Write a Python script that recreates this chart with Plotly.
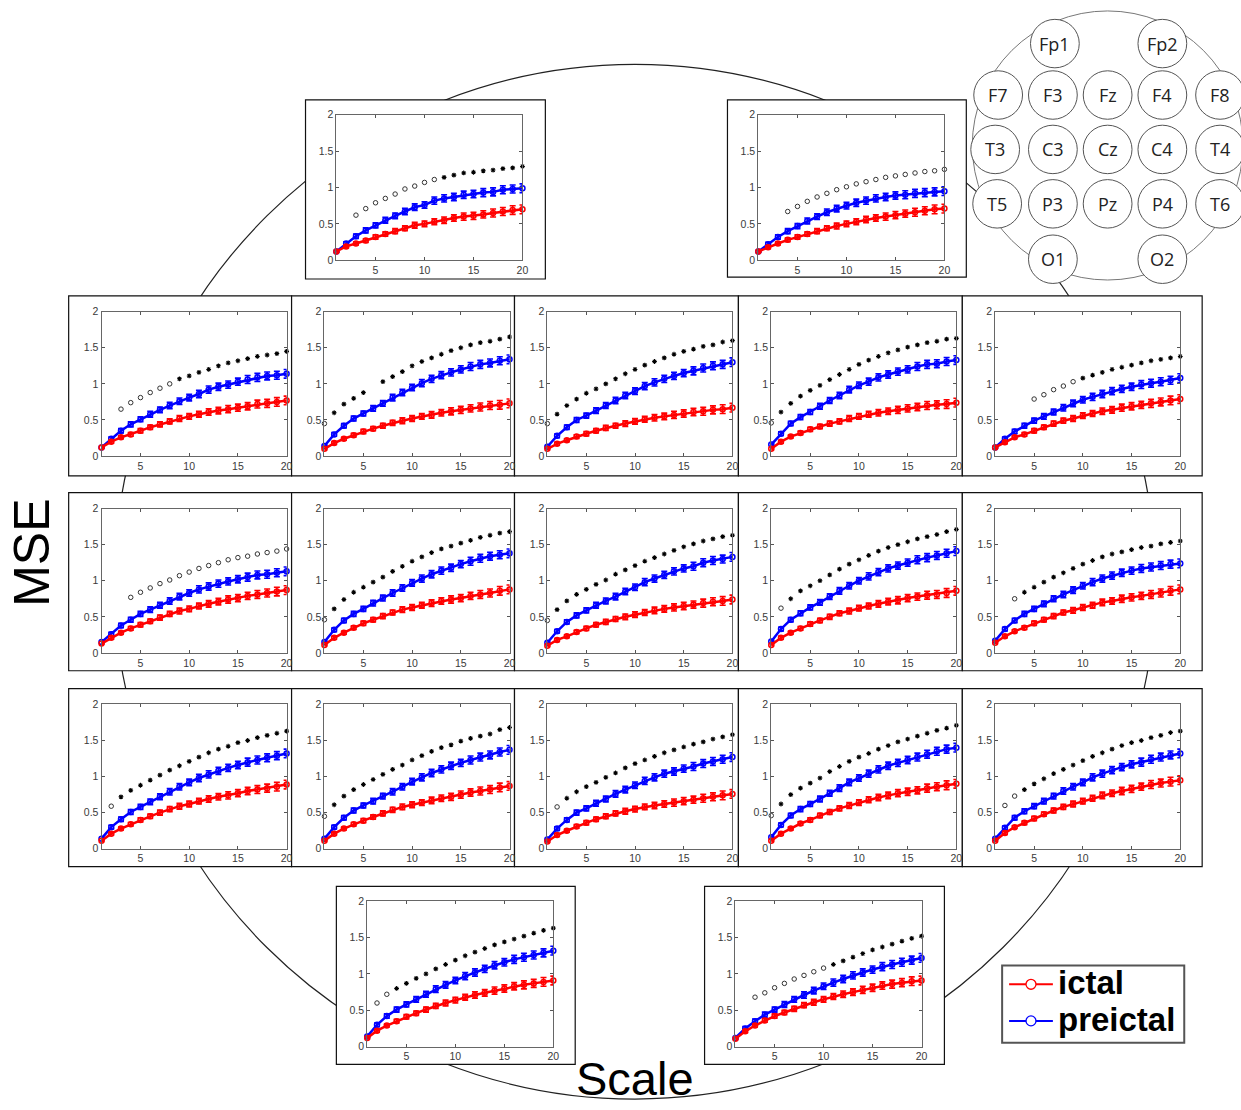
import plotly.graph_objects as go

W, H = 1241, 1110

scales = list(range(1, 21))
x_ticks = [5, 10, 15, 20]
y_ticks = [0, 0.5, 1, 1.5, 2]
y_ticktext = ["0", "0.5", "1", "1.5", "2"]

electrodes = ["Fp1", "Fp2", "F7", "F3", "Fz", "F4", "F8",
              "T3", "C3", "Cz", "C4", "T4",
              "T5", "P3", "Pz", "P4", "T6", "O1", "O2"]

# ---- per-electrode MSE curves ----
fp1_ictal = [0.12,0.19,0.23,0.27,0.32,0.36,0.40,0.44,0.48,0.50,0.53,0.55,0.58,0.60,0.61,0.63,0.65,0.67,0.69,0.70]
fp1_pre   = [0.12,0.23,0.33,0.41,0.48,0.55,0.61,0.67,0.73,0.76,0.82,0.85,0.87,0.90,0.91,0.93,0.94,0.97,0.98,0.99]
fp1_marks = [None,None,0.62,0.71,0.79,0.85,0.91,0.98,1.02,1.07,1.11,1.14,1.17,1.20,1.21,1.23,1.24,1.26,1.27,1.29]
fp1_kind  = "--ooooooooo*********"

fp2_ictal = [0.12,0.18,0.23,0.28,0.32,0.36,0.40,0.44,0.47,0.50,0.53,0.56,0.58,0.60,0.62,0.64,0.66,0.68,0.70,0.71]
fp2_pre   = [0.12,0.22,0.32,0.40,0.47,0.54,0.60,0.66,0.71,0.75,0.79,0.82,0.85,0.87,0.89,0.90,0.92,0.93,0.94,0.95]
fp2_marks = [None,None,None,0.67,0.74,0.81,0.87,0.92,0.97,1.01,1.05,1.08,1.11,1.14,1.16,1.18,1.20,1.22,1.23,1.25]
fp2_kind  = "---ooooooooooooooooo"

f7_ictal = [0.12,0.20,0.26,0.30,0.35,0.40,0.44,0.48,0.52,0.55,0.58,0.61,0.63,0.65,0.67,0.69,0.72,0.73,0.75,0.77]
f7_pre   = [0.12,0.24,0.35,0.44,0.51,0.58,0.64,0.70,0.76,0.81,0.86,0.92,0.96,0.99,1.03,1.06,1.09,1.11,1.12,1.14]
f7_marks = [None,None,0.65,0.74,0.81,0.88,0.94,1.00,1.07,1.11,1.16,1.20,1.25,1.29,1.32,1.35,1.38,1.40,1.42,1.45]
f7_kind  = "--oooooo************"

f3_ictal = [0.10,0.18,0.24,0.29,0.34,0.38,0.42,0.46,0.49,0.52,0.55,0.57,0.60,0.62,0.64,0.66,0.68,0.70,0.71,0.73]
f3_pre   = [0.14,0.30,0.42,0.52,0.59,0.66,0.73,0.81,0.88,0.95,1.01,1.07,1.12,1.16,1.20,1.24,1.27,1.29,1.32,1.34]
f3_marks = [0.45,0.60,0.72,0.80,0.88,None,1.03,1.10,1.17,1.25,1.31,1.36,1.41,1.46,1.50,1.54,1.57,1.59,1.62,1.65]
f3_kind  = "o****-**************"

fz_ictal = [0.10,0.17,0.22,0.27,0.31,0.35,0.39,0.42,0.45,0.48,0.51,0.53,0.55,0.57,0.59,0.61,0.62,0.64,0.65,0.67]
fz_pre   = [0.13,0.28,0.40,0.50,0.56,0.63,0.70,0.77,0.84,0.90,0.97,1.02,1.07,1.11,1.15,1.18,1.22,1.25,1.27,1.30]
fz_marks = [0.45,0.58,0.70,0.79,0.87,0.93,1.00,1.07,1.14,1.20,1.26,1.31,1.36,1.41,1.45,1.48,1.52,1.54,1.58,1.60]
fz_kind  = "o*******************"

f4_ictal = [0.10,0.20,0.27,0.32,0.37,0.41,0.45,0.48,0.52,0.55,0.58,0.60,0.62,0.64,0.66,0.68,0.70,0.71,0.72,0.74]
f4_pre   = [0.16,0.31,0.45,0.54,0.61,0.69,0.77,0.84,0.92,0.98,1.03,1.09,1.13,1.17,1.20,1.24,1.27,1.28,1.31,1.33]
f4_marks = [0.46,0.61,0.73,0.83,0.91,0.98,1.06,1.13,1.20,1.27,1.33,1.38,1.43,1.47,1.51,1.54,1.57,1.59,1.62,1.63]
f4_kind  = "o*******************"

f8_ictal = [0.12,0.19,0.26,0.30,0.35,0.40,0.45,0.49,0.52,0.56,0.59,0.62,0.64,0.67,0.69,0.71,0.73,0.75,0.77,0.79]
f8_pre   = [0.12,0.24,0.34,0.42,0.49,0.55,0.61,0.67,0.73,0.78,0.82,0.86,0.90,0.93,0.96,0.99,1.01,1.03,1.05,1.08]
f8_marks = [None,None,None,None,0.79,0.85,0.92,0.97,1.03,1.08,1.12,1.16,1.20,1.23,1.26,1.29,1.32,1.34,1.36,1.38]
f8_kind  = "----ooooo***********"

t3_ictal = [0.13,0.21,0.28,0.34,0.39,0.44,0.49,0.54,0.58,0.61,0.65,0.68,0.71,0.74,0.76,0.79,0.81,0.83,0.85,0.87]
t3_pre   = [0.15,0.26,0.38,0.46,0.54,0.60,0.66,0.72,0.78,0.83,0.88,0.92,0.96,0.99,1.02,1.05,1.08,1.09,1.11,1.13]
t3_marks = [None,None,None,0.77,0.84,0.90,0.96,1.01,1.07,1.12,1.17,1.21,1.25,1.29,1.32,1.34,1.37,1.39,1.41,1.44]
t3_kind  = "---ooooooooooooooooo"

c3_ictal = [0.11,0.21,0.28,0.35,0.41,0.46,0.51,0.56,0.60,0.63,0.66,0.69,0.72,0.74,0.76,0.79,0.81,0.83,0.86,0.88]
c3_pre   = [0.15,0.32,0.45,0.54,0.61,0.69,0.76,0.83,0.90,0.97,1.03,1.09,1.14,1.18,1.23,1.27,1.31,1.34,1.36,1.38]
c3_marks = [0.46,0.61,0.74,0.84,0.91,0.98,1.05,1.13,1.20,1.27,1.33,1.39,1.44,1.48,1.52,1.56,1.60,1.63,1.66,1.68]
c3_kind  = "o*******************"

cz_ictal = [0.10,0.18,0.23,0.29,0.34,0.39,0.43,0.47,0.50,0.53,0.56,0.59,0.61,0.63,0.65,0.67,0.69,0.71,0.72,0.74]
cz_pre   = [0.14,0.30,0.43,0.52,0.59,0.66,0.72,0.78,0.85,0.91,0.98,1.03,1.08,1.13,1.17,1.20,1.25,1.28,1.30,1.33]
cz_marks = [0.45,0.60,0.72,0.81,0.88,0.95,1.01,1.09,1.15,1.21,1.27,1.32,1.37,1.42,1.47,1.51,1.55,1.58,1.61,1.63]
cz_kind  = "o*******************"

c4_ictal = [0.11,0.21,0.28,0.34,0.40,0.45,0.50,0.55,0.58,0.62,0.65,0.68,0.71,0.73,0.76,0.78,0.80,0.81,0.83,0.86]
c4_pre   = [0.16,0.33,0.46,0.55,0.63,0.70,0.78,0.86,0.93,1.00,1.06,1.12,1.17,1.21,1.25,1.29,1.32,1.35,1.38,1.41]
c4_marks = [None,0.62,0.75,0.86,0.93,1.00,1.08,1.16,1.23,1.29,1.35,1.41,1.46,1.50,1.54,1.58,1.61,1.64,1.68,1.71]
c4_kind  = "-o******************"

t4_ictal = [0.14,0.23,0.30,0.35,0.41,0.46,0.51,0.56,0.59,0.63,0.66,0.70,0.72,0.75,0.77,0.79,0.81,0.83,0.86,0.88]
t4_pre   = [0.17,0.33,0.45,0.54,0.61,0.68,0.75,0.81,0.87,0.93,0.98,1.03,1.07,1.11,1.14,1.17,1.19,1.21,1.23,1.24]
t4_marks = [None,None,0.75,0.84,0.91,0.98,1.05,1.11,1.17,1.23,1.28,1.33,1.37,1.40,1.43,1.46,1.48,1.51,1.53,1.55]
t4_kind  = "--o*****************"

t5_ictal = [0.11,0.21,0.28,0.34,0.40,0.45,0.50,0.55,0.59,0.62,0.66,0.69,0.72,0.74,0.77,0.80,0.82,0.84,0.86,0.89]
t5_pre   = [0.14,0.30,0.41,0.51,0.58,0.65,0.72,0.79,0.86,0.92,0.98,1.03,1.08,1.12,1.16,1.20,1.23,1.26,1.29,1.32]
t5_marks = [None,0.59,0.72,0.81,0.88,0.95,1.02,1.09,1.15,1.21,1.27,1.33,1.38,1.42,1.47,1.50,1.54,1.57,1.60,1.63]
t5_kind  = "-o******************"

p3_ictal = [0.11,0.21,0.28,0.34,0.39,0.44,0.49,0.54,0.58,0.61,0.64,0.67,0.70,0.72,0.75,0.78,0.80,0.82,0.85,0.87]
p3_pre   = [0.14,0.30,0.43,0.53,0.60,0.66,0.73,0.79,0.86,0.93,0.99,1.05,1.10,1.15,1.19,1.23,1.27,1.30,1.34,1.37]
p3_marks = [0.45,0.61,0.73,0.82,0.89,0.96,1.03,1.10,1.16,1.23,1.29,1.35,1.40,1.44,1.49,1.53,1.56,1.59,1.65,1.68]
p3_kind  = "o*******************"

pz_ictal = [0.10,0.19,0.25,0.31,0.36,0.41,0.45,0.49,0.52,0.55,0.58,0.60,0.62,0.64,0.66,0.68,0.70,0.72,0.74,0.76]
pz_pre   = [0.13,0.28,0.40,0.50,0.56,0.63,0.69,0.76,0.82,0.88,0.94,0.99,1.04,1.07,1.11,1.14,1.18,1.21,1.24,1.27]
pz_marks = [None,0.58,0.70,0.79,0.86,0.92,0.99,1.05,1.12,1.18,1.23,1.28,1.33,1.37,1.41,1.45,1.48,1.52,1.55,1.58]
pz_kind  = "-o******************"

p4_ictal = [0.11,0.21,0.28,0.35,0.40,0.46,0.51,0.56,0.60,0.64,0.68,0.71,0.74,0.77,0.79,0.81,0.84,0.86,0.88,0.90]
p4_pre   = [0.16,0.33,0.46,0.55,0.62,0.69,0.77,0.84,0.92,0.98,1.04,1.10,1.15,1.19,1.23,1.27,1.31,1.35,1.38,1.40]
p4_marks = [0.46,0.62,0.75,0.84,0.91,0.98,1.07,1.14,1.21,1.27,1.32,1.38,1.43,1.48,1.52,1.56,1.60,1.64,1.67,1.71]
p4_kind  = "o*******************"

t6_ictal = [0.11,0.22,0.30,0.36,0.42,0.48,0.53,0.58,0.62,0.66,0.70,0.74,0.77,0.80,0.83,0.86,0.89,0.91,0.93,0.95]
t6_pre   = [0.14,0.29,0.43,0.52,0.59,0.66,0.73,0.80,0.86,0.92,0.99,1.04,1.09,1.13,1.17,1.20,1.24,1.27,1.30,1.32]
t6_marks = [None,0.60,0.73,0.82,0.90,0.97,1.04,1.10,1.16,1.22,1.28,1.33,1.38,1.43,1.47,1.50,1.54,1.57,1.61,1.63]
t6_kind  = "-oo*****************"

o1_ictal = [0.12,0.22,0.29,0.35,0.41,0.46,0.51,0.56,0.60,0.64,0.68,0.71,0.74,0.77,0.80,0.83,0.85,0.87,0.89,0.91]
o1_pre   = [0.14,0.30,0.42,0.51,0.58,0.65,0.72,0.79,0.85,0.91,0.97,1.02,1.07,1.12,1.16,1.20,1.23,1.26,1.29,1.32]
o1_marks = [None,0.60,0.72,0.80,0.87,0.94,1.00,1.07,1.13,1.19,1.25,1.30,1.35,1.40,1.44,1.48,1.52,1.56,1.60,1.63]
o1_kind  = "-oo*****************"

o2_ictal = [0.11,0.21,0.29,0.36,0.42,0.47,0.52,0.57,0.61,0.65,0.69,0.72,0.75,0.78,0.81,0.84,0.86,0.88,0.90,0.91]
o2_pre   = [0.12,0.25,0.35,0.44,0.51,0.58,0.65,0.71,0.77,0.83,0.88,0.93,0.98,1.02,1.06,1.10,1.13,1.16,1.19,1.22]
o2_marks = [None,None,0.68,0.74,0.81,0.87,0.93,0.98,1.03,1.08,1.13,1.18,1.23,1.28,1.33,1.37,1.41,1.45,1.49,1.52]
o2_kind  = "--oooooooo**********"

# shared error bar half-widths (read approx.)
err_ictal = [0.01,0.02,0.02,0.025,0.03,0.03,0.035,0.035,0.04,0.04,0.04,0.045,0.045,0.05,0.05,0.05,0.055,0.055,0.06,0.06]
err_pre   = [0.01,0.025,0.03,0.035,0.035,0.04,0.04,0.045,0.045,0.045,0.05,0.05,0.05,0.05,0.05,0.055,0.055,0.055,0.055,0.06]

panel_data = {
    "Fp1": (fp1_ictal, fp1_pre, fp1_marks, fp1_kind),
    "Fp2": (fp2_ictal, fp2_pre, fp2_marks, fp2_kind),
    "F7": (f7_ictal, f7_pre, f7_marks, f7_kind),
    "F3": (f3_ictal, f3_pre, f3_marks, f3_kind),
    "Fz": (fz_ictal, fz_pre, fz_marks, fz_kind),
    "F4": (f4_ictal, f4_pre, f4_marks, f4_kind),
    "F8": (f8_ictal, f8_pre, f8_marks, f8_kind),
    "T3": (t3_ictal, t3_pre, t3_marks, t3_kind),
    "C3": (c3_ictal, c3_pre, c3_marks, c3_kind),
    "Cz": (cz_ictal, cz_pre, cz_marks, cz_kind),
    "C4": (c4_ictal, c4_pre, c4_marks, c4_kind),
    "T4": (t4_ictal, t4_pre, t4_marks, t4_kind),
    "T5": (t5_ictal, t5_pre, t5_marks, t5_kind),
    "P3": (p3_ictal, p3_pre, p3_marks, p3_kind),
    "Pz": (pz_ictal, pz_pre, pz_marks, pz_kind),
    "P4": (p4_ictal, p4_pre, p4_marks, p4_kind),
    "T6": (t6_ictal, t6_pre, t6_marks, t6_kind),
    "O1": (o1_ictal, o1_pre, o1_marks, o1_kind),
    "O2": (o2_ictal, o2_pre, o2_marks, o2_kind),
}

# ---- layout geometry (pixels) ----
row_lefts = [69, 293, 517, 742, 967]
row_rights = [293, 517, 742, 967, 1208]
row_tops = [293, 492, 690]
row_bottoms = [475, 672, 870]
boxes = {
    "Fp1": (307, 95, 548, 276),
    "Fp2": (731, 95, 971, 274),
    "O1": (338, 890, 578, 1070),
    "O2": (708, 890, 949, 1070),
}
grid_names = [["F7", "F3", "Fz", "F4", "F8"],
              ["T3", "C3", "Cz", "C4", "T4"],
              ["T5", "P3", "Pz", "P4", "T6"]]
for r, names in enumerate(grid_names):
    for c, nm in enumerate(names):
        boxes[nm] = (row_lefts[c], row_tops[r], row_rights[c], row_bottoms[r])


def px(x):
    return x / W


def py(y):
    return 1 - y / H


def axes_rect(nm):
    l, t, r, b = boxes[nm]
    if nm in ("Fp1", "Fp2", "O1", "O2"):
        return (l + 31, t + 15, l + 218, t + 162)
    return (l + 33, t + 16, l + 219, t + 162)


fig = go.Figure()
layout = dict(
    width=W, height=H, margin=dict(l=0, r=0, t=0, b=0),
    paper_bgcolor="white", plot_bgcolor="rgba(0,0,0,0)",
    showlegend=False,
)

RED = "#ff0000"
BLUE = "#0000ff"
axis_font = dict(family="Liberation Sans, Arial, sans-serif", size=10.5, color="#3a3a3a")

for i, nm in enumerate(electrodes):
    n = "" if i == 0 else str(i + 1)
    xa, ya = "x" + n, "y" + n
    ictal, pre, marks, kind = panel_data[nm]
    assert len(kind) == 20, nm
    al, at, ar, ab = axes_rect(nm)
    layout["xaxis" + n] = dict(
        domain=[px(al), px(ar)], anchor=ya, range=[1, 20],
        tickvals=x_ticks, ticks="inside", ticklen=3, tickcolor="#555",
        showline=True, mirror="ticks", linecolor="#666", linewidth=1,
        showgrid=False, zeroline=False, tickfont=axis_font, fixedrange=True,
    )
    layout["yaxis" + n] = dict(
        domain=[py(ab), py(at)], anchor=xa, range=[0, 2],
        tickvals=y_ticks, ticktext=y_ticktext, ticks="inside", ticklen=3,
        tickcolor="#555", showline=True, mirror="ticks", linecolor="#666",
        linewidth=1, showgrid=False, zeroline=False, tickfont=axis_font,
        fixedrange=True,
    )
    for vals, err, col in ((pre, err_pre, BLUE), (ictal, err_ictal, RED)):
        fig.add_trace(go.Scatter(
            x=scales, y=vals, xaxis=xa, yaxis=ya, mode="lines+markers",
            line=dict(color=col, width=2.5),
            marker=dict(symbol="circle-open", size=5, color=col, line=dict(width=1.5)),
            error_y=dict(type="data", array=err, visible=True, color=col,
                         thickness=1.6, width=3),
            cliponaxis=False, hoverinfo="skip",
        ))
    ox = [s for s, k in zip(scales, kind) if k == "o"]
    oy = [m for m, k in zip(marks, kind) if k == "o"]
    sx = [s for s, k in zip(scales, kind) if k == "*"]
    sy = [m for m, k in zip(marks, kind) if k == "*"]
    fig.add_trace(go.Scatter(
        x=ox, y=oy, xaxis=xa, yaxis=ya, mode="markers",
        marker=dict(symbol="circle-open", size=4.5, color="#333", line=dict(width=1)),
        cliponaxis=False, hoverinfo="skip",
    ))
    fig.add_trace(go.Scatter(
        x=sx, y=sy, xaxis=xa, yaxis=ya, mode="markers",
        marker=dict(symbol="asterisk-open", size=4, color="#000", line=dict(width=1.1, color="#000")),
        cliponaxis=False, hoverinfo="skip",
    ))

shapes = []
# big surrounding circle
shapes.append(dict(type="circle", xref="paper", yref="paper",
                   x0=px(115), x1=px(1161), y0=py(1105), y1=py(59),
                   line=dict(color="#222", width=1.2), layer="below"))
# panel boxes
for nm in electrodes:
    l, t, r, b = boxes[nm]
    shapes.append(dict(type="rect", xref="paper", yref="paper",
                       x0=px(l), x1=px(r), y0=py(b), y1=py(t),
                       line=dict(color="#111", width=1.2), fillcolor="white",
                       layer="below"))
# head map
shapes.append(dict(type="circle", xref="paper", yref="paper",
                   x0=px(977), x1=px(1249), y0=py(277), y1=py(5),
                   line=dict(color="#777", width=1), fillcolor="white", layer="below"))
head_pos = {
    "Fp1": (1060, 38), "Fp2": (1168, 38),
    "F7": (1003, 90), "F3": (1058, 90), "Fz": (1113, 90), "F4": (1168, 90), "F8": (1226, 90),
    "T3": (1000, 145), "C3": (1058, 145), "Cz": (1113, 145), "C4": (1168, 145), "T4": (1226, 145),
    "T5": (1002, 200), "P3": (1058, 200), "Pz": (1113, 200), "P4": (1168, 200), "T6": (1226, 200),
    "O1": (1058, 256), "O2": (1168, 256),
}
annotations = []
er = 24.5
for nm, (cx, cy) in head_pos.items():
    shapes.append(dict(type="circle", xref="paper", yref="paper",
                       x0=px(cx - er), x1=px(cx + er), y0=py(cy + er), y1=py(cy - er),
                       line=dict(color="#555", width=1), fillcolor="white", layer="below"))
    annotations.append(dict(x=px(cx), y=py(cy), xref="paper", yref="paper",
                            text=nm, showarrow=False, xanchor="center", yanchor="middle",
                            font=dict(family="Open Sans, Liberation Sans, sans-serif", size=18, color="#222")))

# legend
shapes.append(dict(type="rect", xref="paper", yref="paper",
                   x0=px(1007), x1=px(1190), y0=py(1048), y1=py(970),
                   line=dict(color="#555", width=2), fillcolor="white", layer="above"))
for ly, col in ((989, RED), (1026, BLUE)):
    shapes.append(dict(type="line", xref="paper", yref="paper",
                       x0=px(1014), x1=px(1058), y0=py(ly), y1=py(ly),
                       line=dict(color=col, width=2), layer="above"))
    shapes.append(dict(type="circle", xref="paper", yref="paper",
                       x0=px(1031), x1=px(1041), y0=py(ly + 5), y1=py(ly - 5),
                       line=dict(color=col, width=1.3), fillcolor="white", layer="above"))
for txt, ly in (("ictal", 987), ("preictal", 1025)):
    annotations.append(dict(x=px(1061), y=py(ly), xref="paper", yref="paper",
                            text="<b>" + txt + "</b>", showarrow=False,
                            xanchor="left", yanchor="middle",
                            font=dict(family="Liberation Sans, Arial, sans-serif", size=33, color="black")))

# axis titles
annotations.append(dict(x=px(32), y=py(553), xref="paper", yref="paper", text="MSE",
                        showarrow=False, textangle=-90, xanchor="center", yanchor="middle",
                        font=dict(family="Liberation Sans, Arial, sans-serif", size=50, color="black")))
annotations.append(dict(x=px(638), y=py(1084), xref="paper", yref="paper", text="Scale",
                        showarrow=False, xanchor="center", yanchor="middle",
                        font=dict(family="Liberation Sans, Arial, sans-serif", size=47, color="black")))

layout["shapes"] = shapes
layout["annotations"] = annotations
fig.update_layout(**layout)
fig.write_html("out.html", config={"displayModeBar": False},
               post_script="document.body.style.margin='0';document.body.style.overflow='hidden';")
